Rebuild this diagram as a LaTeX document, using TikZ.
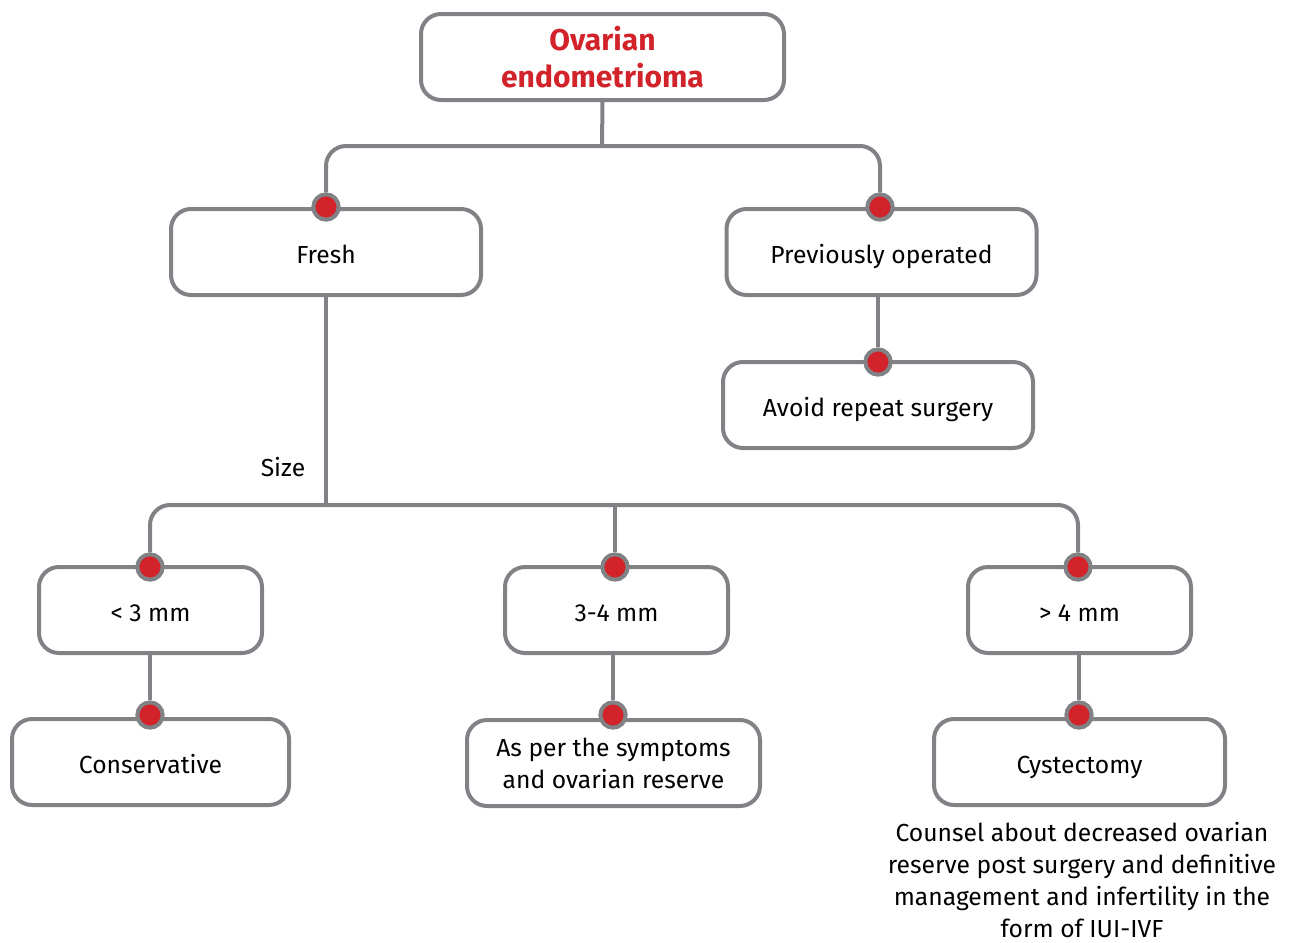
\documentclass[tikz,border=0pt]{standalone}
\usepackage{fontspec}
\setmainfont{Fira Sans}
\definecolor{linegrey}{HTML}{808285}
\definecolor{dotred}{HTML}{D2232A}
\begin{document}
\begin{tikzpicture}[x=0.75pt,y=-0.75pt,
  box/.style={draw=linegrey,line width=3pt,rounded corners=15pt,minimum width=#1*0.75pt,minimum height=86*0.75pt,align=center,font=\fontsize{18.5}{24}\selectfont,inner sep=0pt},
  box/.default=310,
  oneline/.style={text height=16.5pt,text depth=0pt},
  link/.style={draw=linegrey,line width=3pt,rounded corners=15pt},
  dot/.style={circle,fill=dotred,draw=linegrey,line width=3pt,minimum size=19pt,inner sep=0pt}]
\useasboundingbox (0,0) rectangle (1290,943);
% boxes
\node[box=363,font=\fontsize{22.5}{27.75}\selectfont\bfseries,text=dotred] (root) at (602.5,57) {Ovarian\\endometrioma};
\node[box,oneline] (fresh) at (326,252) {Fresh};
\node[box,oneline] (prev) at (881.5,252) {Previously operated};
\node[box,oneline] (avoid) at (878,405) {Avoid repeat surgery};
\node[box=223,oneline] (lt3) at (150.5,610) {< 3 mm};
\node[box=223,oneline] (mid) at (616.5,610) {3-4 mm};
\node[box=223,oneline] (gt4) at (1079.5,610) {> 4 mm};
\node[box=277,oneline] (cons) at (150.5,762) {Conservative};
\node[box=293] (asper) at (613.5,763) {As per the symptoms\\and ovarian reserve};
\node[box=291,oneline] (cyst) at (1079.5,762) {Cystectomy};
\node[align=center,inner sep=0pt,font=\fontsize{18.5}{24}\selectfont] (counsel) at (1082,880) {Counsel about decreased ovarian\\reserve post surgery and definitive\\management and infertility in the\\form of IUI-IVF};
\node[font=\fontsize{18.5}{24}\selectfont] (size) at (283,467) {Size};
% junction dots
\node[dot] (dfresh) at (326,207) {};
\node[dot] (dprev) at (880,207) {};
\node[dot] (davoid) at (878,362) {};
\node[dot] (dlt3) at (150,567) {};
\node[dot] (dmid) at (615,567) {};
\node[dot] (dgt4) at (1078,567) {};
\node[dot] (dcons) at (150,715) {};
\node[dot] (dasper) at (613,715) {};
\node[dot] (dcyst) at (1079,715) {};
\coordinate (top) at (602,146);
\coordinate (split) at (326,505);
% connectors
\draw[link] (root.south) -- (top);
\draw[link] (dfresh.north) |- (top) -| (dprev.north);
\draw[link] (fresh.south) -- (split);
\draw[link] (dlt3.north) |- (split) -| (dgt4.north);
\draw[link] (dmid.north) -- (dmid.north |- split);
\draw[link] (prev.south -| davoid) -- (davoid.north);
\draw[link] (lt3.south -| dcons) -- (dcons.north);
\draw[link] (mid.south -| dasper) -- (dasper.north);
\draw[link] (gt4.south -| dcyst) -- (dcyst.north);
\end{tikzpicture}
\end{document}
